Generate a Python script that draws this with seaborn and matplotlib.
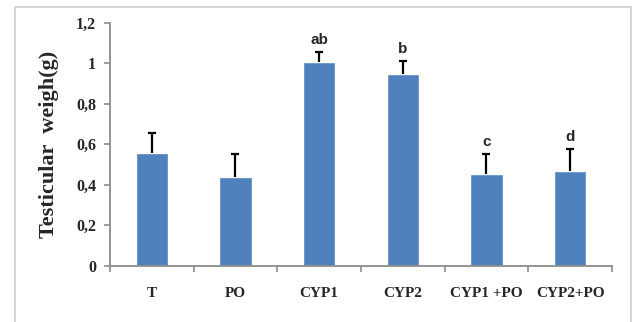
import matplotlib
matplotlib.use("Agg")
import matplotlib.pyplot as plt
import seaborn as sns
import pandas as pd
import numpy as np
from matplotlib.patches import Rectangle

categories = ["T", "PO", "CYP1", "CYP2", "CYP1 +PO", "CYP2+PO"]
means = [0.557, 0.437, 1.005, 0.946, 0.455, 0.467]
errors = [0.100, 0.115, 0.050, 0.067, 0.097, 0.108]
letters = ["", "", "ab", "b", "c", "d"]
yticks = [0, 0.2, 0.4, 0.6, 0.8, 1.0, 1.2]
ytick_labels = ["0", "0,2", "0,4", "0,6", "0,8", "1", "1,2"]

df = pd.DataFrame({"group": categories, "value": means})

sns.set_theme(style="white")
plt.rcParams["font.family"] = ["Liberation Serif", "DejaVu Serif"]

fig = plt.figure(figsize=(6.35, 3.22), dpi=100)
fig.patch.set_facecolor("white")
ax = fig.add_axes([110/635, 1-265.7/322, (612-110)/635, (265.7-22.7)/322])

sns.barplot(data=df, x="group", y="value", color="#4F81BD", saturation=1,
            width=0.39, ax=ax, errorbar=None, order=categories)

xpos = np.arange(len(categories))
eb = ax.errorbar(xpos, means, yerr=[np.zeros(len(errors)), errors], fmt="none",
                 ecolor="black", elinewidth=1.6, capsize=2.8, capthick=1.6, zorder=3)
# keep only the upper caps
if len(eb[1]) == 2:
    eb[1][0].set_visible(False)

for x, m, e, t in zip(xpos, means, errors, letters):
    if t:
        ax.text(x, m + e + 0.025, t, ha="center", va="bottom", fontsize=11,
                fontweight="bold", family=["Liberation Sans", "DejaVu Sans"])

ax.set_xlim(-0.5, len(categories) - 0.5)
ax.set_ylim(0, 1.2)
ax.set_yticks(yticks)
ax.set_yticklabels(ytick_labels, fontsize=11.5, fontweight="bold")
ax.set_xticks(xpos)
ax.set_xticklabels(categories, fontsize=11, fontweight="bold")
ax.set_xticks(np.arange(-0.5, len(categories)), minor=True)
ax.tick_params(axis="x", which="major", length=0, pad=15)
ax.tick_params(axis="x", which="minor", length=4, width=1.2, color="#8c8c8c", direction="out", bottom=True)
ax.tick_params(axis="y", which="major", length=4, width=1.2, color="#8c8c8c", direction="out", left=True, pad=6)
ax.set_xlabel("")
ax.set_ylabel("Testicular  weigh(g)", fontsize=16, fontweight="bold", labelpad=12)

for s in ["top", "right"]:
    ax.spines[s].set_visible(False)
for s in ["left", "bottom"]:
    ax.spines[s].set_color("#8c8c8c")
    ax.spines[s].set_linewidth(1.3)

border = Rectangle((15/635, -0.05), (631-15)/635, 1 - 7/322 + 0.05,
                   transform=fig.transFigure, fill=False, edgecolor="#d0d0d0",
                   linewidth=1.2)
fig.patches.append(border)

fig.savefig("out.png", dpi=100)
